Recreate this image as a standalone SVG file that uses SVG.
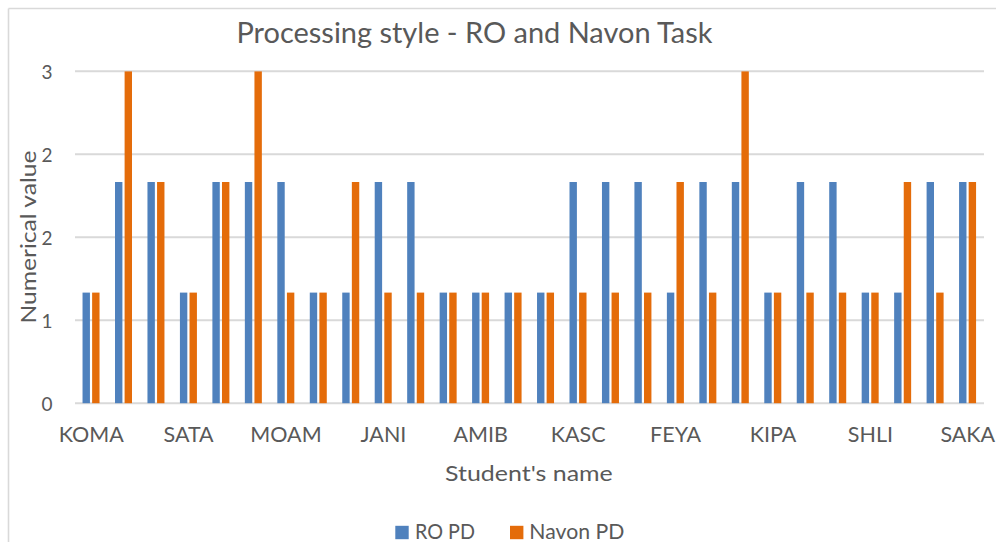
<svg xmlns="http://www.w3.org/2000/svg" width="996" height="542" viewBox="0 0 996 542">
  <style>
    text { font-family: Lato, "Liberation Sans", sans-serif; fill: #595959; }
    .grid { stroke: #d9d9d9; stroke-width: 2; }
    .frame { stroke: #d9d9d9; stroke-width: 1.6; fill: none; }
    .ro { fill: #4f81bd; }
    .nv { fill: #e46c0a; }
    .ytick { font-size: 19px; text-anchor: end; }
    .xtick { font-size: 21.5px; text-anchor: middle; }
  </style>
  <rect width="996" height="542" fill="#ffffff"/>

  <!-- chart frame (left and top edges visible) -->
  <g id="frame">
    <line class="frame" x1="8.5" y1="8.5" x2="996" y2="8.5"/>
    <line class="frame" x1="8.5" y1="8.5" x2="8.5" y2="542"/>
  </g>

  <g id="title">
    <text x="474.5" y="43.3" font-size="28" text-anchor="middle" textLength="476" lengthAdjust="spacingAndGlyphs">Processing style - RO and Navon Task</text>
  </g>

  <!-- horizontal gridlines: 0, 0.75, 1.5, 2.25, 3 -->
  <g id="gridlines">
    <line class="grid" x1="75" y1="71.3" x2="984" y2="71.3"/>
    <line class="grid" x1="75" y1="154.3" x2="984" y2="154.3"/>
    <line class="grid" x1="75" y1="237.3" x2="984" y2="237.3"/>
    <line class="grid" x1="75" y1="320.2" x2="984" y2="320.2"/>
    <line class="grid" x1="75" y1="403.2" x2="984" y2="403.2"/>
  </g>

  <g id="y-axis">
    <text class="ytick" x="52.5" y="78.5">3</text>
    <text class="ytick" x="52.5" y="161.5">2</text>
    <text class="ytick" x="52.5" y="244.5">2</text>
    <text class="ytick" x="52.5" y="327.5">1</text>
    <text class="ytick" x="52.5" y="410.5">0</text>
    <text x="0" y="0" font-size="21" text-anchor="middle" textLength="173" lengthAdjust="spacingAndGlyphs" transform="translate(35.5,237) rotate(-90)">Numerical value</text>
  </g>

  <g id="x-axis">
    <text class="xtick" x="91.2" y="442.3">KOMA</text>
    <text class="xtick" x="188.6" y="442.3">SATA</text>
    <text class="xtick" x="286.0" y="442.3">MOAM</text>
    <text class="xtick" x="383.4" y="442.3">JANI</text>
    <text class="xtick" x="480.8" y="442.3">AMIB</text>
    <text class="xtick" x="578.2" y="442.3">KASC</text>
    <text class="xtick" x="675.6" y="442.3">FEYA</text>
    <text class="xtick" x="773.0" y="442.3">KIPA</text>
    <text class="xtick" x="870.4" y="442.3">SHLI</text>
    <text class="xtick" x="967.8" y="442.3">SAKA</text>
    <text x="528.9" y="480.7" font-size="22" text-anchor="middle" textLength="167.7" lengthAdjust="spacingAndGlyphs">Student's name</text>
  </g>

  <!-- series RO PD: value 1 -> y 292.6, 2 -> 182.0, 3 -> 71.4 ; baseline 403.2 -->
  <g id="series-ro">
    <rect class="ro" x="82.53" y="292.6" width="7.4" height="110.6"/>
    <rect class="ro" x="115.00" y="182.0" width="7.4" height="221.2"/>
    <rect class="ro" x="147.46" y="182.0" width="7.4" height="221.2"/>
    <rect class="ro" x="179.92" y="292.6" width="7.4" height="110.6"/>
    <rect class="ro" x="212.39" y="182.0" width="7.4" height="221.2"/>
    <rect class="ro" x="244.85" y="182.0" width="7.4" height="221.2"/>
    <rect class="ro" x="277.32" y="182.0" width="7.4" height="221.2"/>
    <rect class="ro" x="309.78" y="292.6" width="7.4" height="110.6"/>
    <rect class="ro" x="342.25" y="292.6" width="7.4" height="110.6"/>
    <rect class="ro" x="374.71" y="182.0" width="7.4" height="221.2"/>
    <rect class="ro" x="407.17" y="182.0" width="7.4" height="221.2"/>
    <rect class="ro" x="439.64" y="292.6" width="7.4" height="110.6"/>
    <rect class="ro" x="472.10" y="292.6" width="7.4" height="110.6"/>
    <rect class="ro" x="504.57" y="292.6" width="7.4" height="110.6"/>
    <rect class="ro" x="537.03" y="292.6" width="7.4" height="110.6"/>
    <rect class="ro" x="569.50" y="182.0" width="7.4" height="221.2"/>
    <rect class="ro" x="601.96" y="182.0" width="7.4" height="221.2"/>
    <rect class="ro" x="634.42" y="182.0" width="7.4" height="221.2"/>
    <rect class="ro" x="666.89" y="292.6" width="7.4" height="110.6"/>
    <rect class="ro" x="699.35" y="182.0" width="7.4" height="221.2"/>
    <rect class="ro" x="731.82" y="182.0" width="7.4" height="221.2"/>
    <rect class="ro" x="764.28" y="292.6" width="7.4" height="110.6"/>
    <rect class="ro" x="796.75" y="182.0" width="7.4" height="221.2"/>
    <rect class="ro" x="829.21" y="182.0" width="7.4" height="221.2"/>
    <rect class="ro" x="861.67" y="292.6" width="7.4" height="110.6"/>
    <rect class="ro" x="894.14" y="292.6" width="7.4" height="110.6"/>
    <rect class="ro" x="926.60" y="182.0" width="7.4" height="221.2"/>
    <rect class="ro" x="959.07" y="182.0" width="7.4" height="221.2"/>
  </g>

  <!-- series Navon PD -->
  <g id="series-navon">
    <rect class="nv" x="92.13" y="292.6" width="7.4" height="110.6"/>
    <rect class="nv" x="124.60" y="71.4" width="7.4" height="331.8"/>
    <rect class="nv" x="157.06" y="182.0" width="7.4" height="221.2"/>
    <rect class="nv" x="189.52" y="292.6" width="7.4" height="110.6"/>
    <rect class="nv" x="221.99" y="182.0" width="7.4" height="221.2"/>
    <rect class="nv" x="254.45" y="71.4" width="7.4" height="331.8"/>
    <rect class="nv" x="286.92" y="292.6" width="7.4" height="110.6"/>
    <rect class="nv" x="319.38" y="292.6" width="7.4" height="110.6"/>
    <rect class="nv" x="351.85" y="182.0" width="7.4" height="221.2"/>
    <rect class="nv" x="384.31" y="292.6" width="7.4" height="110.6"/>
    <rect class="nv" x="416.77" y="292.6" width="7.4" height="110.6"/>
    <rect class="nv" x="449.24" y="292.6" width="7.4" height="110.6"/>
    <rect class="nv" x="481.70" y="292.6" width="7.4" height="110.6"/>
    <rect class="nv" x="514.17" y="292.6" width="7.4" height="110.6"/>
    <rect class="nv" x="546.63" y="292.6" width="7.4" height="110.6"/>
    <rect class="nv" x="579.10" y="292.6" width="7.4" height="110.6"/>
    <rect class="nv" x="611.56" y="292.6" width="7.4" height="110.6"/>
    <rect class="nv" x="644.02" y="292.6" width="7.4" height="110.6"/>
    <rect class="nv" x="676.49" y="182.0" width="7.4" height="221.2"/>
    <rect class="nv" x="708.95" y="292.6" width="7.4" height="110.6"/>
    <rect class="nv" x="741.42" y="71.4" width="7.4" height="331.8"/>
    <rect class="nv" x="773.88" y="292.6" width="7.4" height="110.6"/>
    <rect class="nv" x="806.35" y="292.6" width="7.4" height="110.6"/>
    <rect class="nv" x="838.81" y="292.6" width="7.4" height="110.6"/>
    <rect class="nv" x="871.27" y="292.6" width="7.4" height="110.6"/>
    <rect class="nv" x="903.74" y="182.0" width="7.4" height="221.2"/>
    <rect class="nv" x="936.20" y="292.6" width="7.4" height="110.6"/>
    <rect class="nv" x="968.67" y="182.0" width="7.4" height="221.2"/>
  </g>

  <g id="legend">
    <rect class="ro" x="395.3" y="525.8" width="13.4" height="13.4"/>
    <text x="415" y="538.8" font-size="21" textLength="60" lengthAdjust="spacingAndGlyphs">RO PD</text>
    <rect class="nv" x="510" y="525.8" width="13.4" height="13.4"/>
    <text x="529.3" y="538.8" font-size="21" textLength="95" lengthAdjust="spacingAndGlyphs">Navon PD</text>
  </g>
</svg>
